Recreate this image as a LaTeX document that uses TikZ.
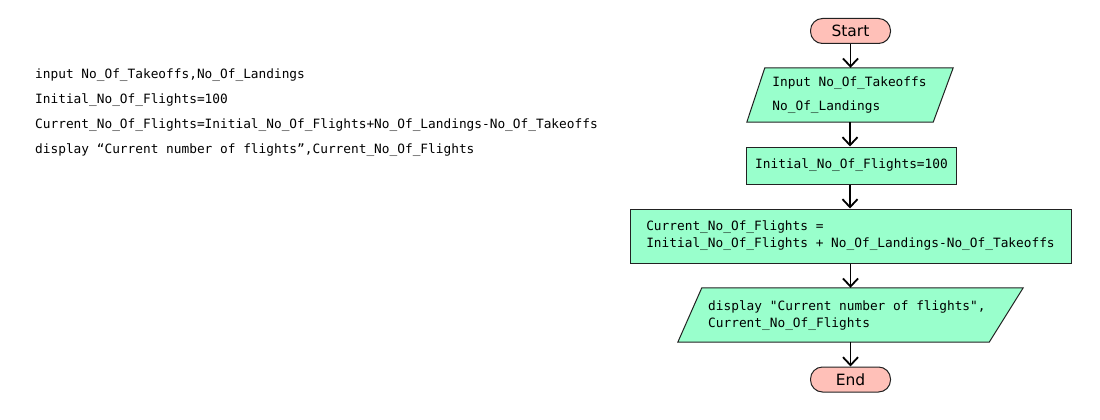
\documentclass[tikz,border=0pt]{standalone}
\usepackage{fontspec}
\setmonofont{DejaVu Sans Mono}
\newfontfamily\pillfont{DejaVu Sans}
\usetikzlibrary{arrows.meta,calc}
\definecolor{boxgreen}{HTML}{99FFCC}
\definecolor{pillpink}{HTML}{FFC0B8}
\definecolor{edgecol}{HTML}{222222}
\begin{document}
\begin{tikzpicture}[x=1pt,y=-1pt,
  mono/.style={font=\ttfamily\fontsize{12.8pt}{17pt}\selectfont},
  pill/.style={draw=edgecol, line width=1pt, fill=pillpink, rounded corners=12pt,
    minimum width=80pt, minimum height=25pt, inner sep=0pt,
    font=\pillfont\fontsize{15.5pt}{18pt}\selectfont},
  procbox/.style={draw=edgecol, line width=1pt, fill=boxgreen, inner sep=0pt, mono, align=left},
  iobox/.style={rectangle, inner sep=0pt, minimum height=54pt},
  iofill/.style={draw=edgecol, line width=1pt, fill=boxgreen},
  iotext/.style={mono, align=left, inner sep=0pt},
  codeline/.style={mono, anchor=base west, inner sep=0pt},
  flow/.style={line width=1.8pt, -{Straight Barb[length=8pt,width=15pt]}}
]
\useasboundingbox (0,0) rectangle (1100,420);

% pseudocode
\node[codeline] (l1) at (35,78) {input No\_Of\_Takeoffs,No\_Of\_Landings};
\node[codeline] (l2) at (35,103) {Initial\_No\_Of\_Flights=100};
\node[codeline] (l3) at (35,128) {Current\_No\_Of\_Flights=Initial\_No\_Of\_Flights+No\_Of\_Landings-No\_Of\_Takeoffs};
\node[codeline] (l4) at (35,153) {display “Current number of flights”,Current\_No\_Of\_Flights};

% flowchart
\node[pill] (start) at (850.5,31) {Start};

\node[iobox, minimum width=206pt] (in1) at (850,95) {};
\draw[iofill] (in1.south west) -- ([xshift=18pt]in1.north west) -- (in1.north east)
  -- ([xshift=-20pt]in1.south east) -- cycle;
\node[iotext] (in1t) at (849.5,95) {Input No\_Of\_Takeoffs\\[7pt]No\_Of\_Landings};

\node[procbox, minimum width=210pt, minimum height=37pt] (init) at (851.5,165.5) {Initial\_No\_Of\_Flights=100};

\node[procbox, minimum width=441pt, minimum height=54pt] (cur) at (850.5,236)
  {Current\_No\_Of\_Flights =\\Initial\_No\_Of\_Flights + No\_Of\_Landings-No\_Of\_Takeoffs};

\node[iobox, minimum width=345pt] (disp) at (850.5,315) {};
\draw[iofill] (disp.south west) -- ([xshift=24pt]disp.north west) -- (disp.north east)
  -- ([xshift=-34pt]disp.south east) -- cycle;
\node[iotext, anchor=west] (dispt) at (708,315.5) {display "Current number of flights",\\Current\_No\_Of\_Flights};

\node[pill] (end) at (850.5,379.5) {End};

\draw[flow] (start.south) -- (start.south |- in1.north);
\draw[flow] (in1.south) -- (in1.south |- init.north);
\draw[flow] (in1.south |- init.south) -- (in1.south |- cur.north);
\draw[flow] (cur.south) -- (cur.south |- disp.north);
\draw[flow] (disp.south) -- (disp.south |- end.north);
\end{tikzpicture}
\end{document}
